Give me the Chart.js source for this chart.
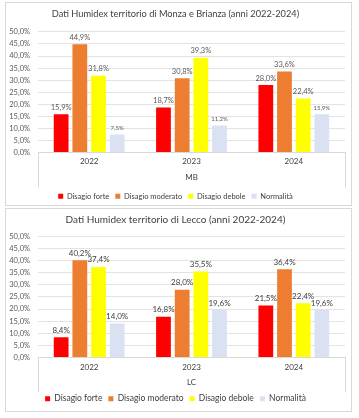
<!DOCTYPE html>
<html><head><meta charset="utf-8">
<script src="https://cdn.jsdelivr.net/npm/chart.js@4.4.1/dist/chart.umd.min.js"></script>
<style>
html,body{margin:0;padding:0;background:#fff;width:359px;height:418px;overflow:hidden}
.box{position:absolute;left:5px;width:345px;height:202px;border:1px solid #d9d9d9;background:#fff;overflow:hidden}
.box canvas{display:block}
</style></head><body>
<div class="box" style="top:2px"><canvas id="c1" width="345" height="202"></canvas></div>
<div class="box" style="top:208px"><canvas id="c2" width="345" height="202"></canvas></div>
<script>
const categories = ['2022', '2023', '2024'];
const seriesNames = ['Disagio forte', 'Disagio moderato', 'Disagio debole', 'Normalità'];
const mbForte = [15.9, 18.7, 28.0];
const mbModerato = [44.9, 30.8, 33.6];
const mbDebole = [31.8, 39.3, 22.4];
const mbNormalita = [7.5, 11.2, 15.9];
const lcForte = [8.4, 16.8, 21.5];
const lcModerato = [40.2, 28.0, 36.4];
const lcDebole = [37.4, 35.5, 22.4];
const lcNormalita = [14.0, 19.6, 19.6];
const yMin = 0, yMax = 50, yStep = 5;

const colors = ['#FF0000', '#ED7D31', '#FFFF00', '#D9E1F2'];
const FONT = 'Lato';

function fmt(v) { return v.toFixed(1).replace('.', ',') + '%'; }

const barLabels = {
  id: 'barLabels',
  afterDatasetsDraw(chart, args, opts) {
    const ctx = chart.ctx;
    ctx.save();
    ctx.textAlign = 'center';
    ctx.textBaseline = 'bottom';
    chart.data.datasets.forEach((ds, i) => {
      const meta = chart.getDatasetMeta(i);
      const size = (opts.sizes && opts.sizes[i]) || opts.size;
      ctx.font = size + 'px ' + FONT;
      ctx.fillStyle = opts.color;
      meta.data.forEach((el, j) => {
        ctx.fillText(fmt(ds.data[j]), el.x, el.y - 3);
      });
    });
    ctx.restore();
  }
};

const axisBox = {
  id: 'axisBox',
  afterDraw(chart, args, opts) {
    const a = chart.chartArea, ctx = chart.ctx;
    ctx.save();
    ctx.strokeStyle = '#d9d9d9';
    ctx.lineWidth = 1;
    ctx.beginPath();
    [a.left, a.right].forEach(x => {
      const px = Math.round(x) + 0.5;
      ctx.moveTo(px, a.bottom);
      ctx.lineTo(px, a.bottom + opts.depth);
    });
    ctx.stroke();
    ctx.restore();
  }
};

function makeChart(id, title, axisTitle, data, o) {
  return new Chart(document.getElementById(id), {
    type: 'bar',
    data: {
      labels: categories,
      datasets: seriesNames.map((n, i) => ({
        label: n, data: data[i], backgroundColor: colors[i], borderWidth: 0,
        categoryPercentage: 0.73, barPercentage: 0.79
      }))
    },
    plugins: [barLabels, axisBox],
    options: {
      responsive: false, animation: false, devicePixelRatio: 1,
      layout: { padding: { left: 0, right: 6, top: 0, bottom: o.padBottom } },
      scales: {
        y: {
          min: yMin, max: yMax,
          afterFit(s) { s.width = 32; },
          ticks: { stepSize: yStep, padding: 8, color: '#595959', font: { family: FONT, size: 7.5 },
            callback: v => v.toFixed(1).replace('.', ',') + '%' },
          grid: { color: '#e3e3e3', drawTicks: false },
          border: { display: false }
        },
        x: {
          afterFit(s) { s.height = o.xHeight; },
          ticks: { padding: o.tickPad, color: '#404040', font: { family: FONT, size: 8 } },
          grid: { display: false, drawTicks: false },
          border: { display: true, color: '#d9d9d9' },
          title: { display: true, text: axisTitle, color: '#404040', font: { family: FONT, size: 8 }, padding: { top: 6, bottom: o.xTitleBottom } }
        }
      },
      plugins: {
        title: { display: true, text: title, color: '#404040', font: { family: FONT, size: o.titleSize, weight: 'normal' }, padding: { top: 5, bottom: o.titleBottom } },
        legend: { position: 'bottom', labels: { boxWidth: 5, boxHeight: 5, padding: o.legendPad, color: '#404040', font: { family: FONT, size: o.legendSize } } },
        tooltip: { enabled: false },
        barLabels: { size: o.labelSize, sizes: o.labelSizes, color: o.labelColor },
        axisBox: { depth: 35 }
      }
    }
  });
}

makeChart('c1', 'Dati Humidex territorio di Monza e Brianza (anni 2022-2024)', 'MB',
  [mbForte, mbModerato, mbDebole, mbNormalita],
  { titleSize: 9.25, titleBottom: 12.8, padBottom: -5, xHeight: 34, tickPad: 4, xTitleBottom: 4,
    legendPad: 6, legendSize: 7.5, labelSize: 7.5, labelSizes: [7.5, 7.5, 7.5, 6], labelColor: '#595959' });
makeChart('c2', 'Dati Humidex territorio di Lecco (anni 2022-2024)', 'LC',
  [lcForte, lcModerato, lcDebole, lcNormalita],
  { titleSize: 10, titleBottom: 10.4, padBottom: -2, xHeight: 31, tickPad: 5, xTitleBottom: 1,
    legendPad: 6, legendSize: 8.5, labelSize: 8, labelSizes: null, labelColor: '#404040' });
</script>
</body></html>
